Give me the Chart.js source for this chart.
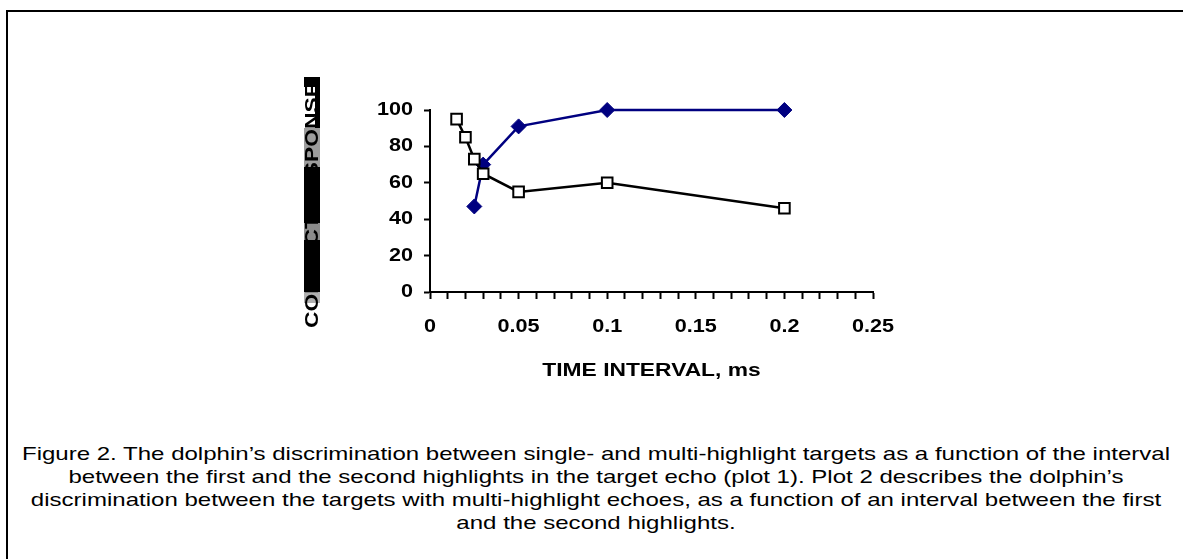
<!DOCTYPE html>
<html>
<head>
<meta charset="utf-8">
<script src="https://cdn.jsdelivr.net/npm/chart.js@4"></script>
<style>
  html, body { margin: 0; padding: 0; background: #fff; }
  body { width: 1183px; height: 559px; position: relative; overflow: hidden;
         font-family: "Liberation Sans", Arial, sans-serif; }
  .frame { position: absolute; left: 6px; top: 10px; width: 1300px; height: 700px;
           border-left: 2px solid #000; border-top: 2px solid #000; }
  #wrap { position: absolute; left: 0; top: 0; width: 1183px; height: 420px; }
  /* the scanned y title: a black bar with grey patches over the text */
  .ybar { position: absolute; left: 304px; top: 77px; width: 16px; height: 226px;
          background:
            linear-gradient(to right, transparent 70%, #000 70%) 0 10px / 100% 41px no-repeat,
            linear-gradient(to bottom,
              #000 0, #000 10px,
              transparent 10px, transparent 51px,
              #9c9c9c 51px, #9c9c9c 90px,
              #000 90px, #000 146px,
              #8c8c8c 146px, #8c8c8c 163px,
              #000 163px, #000 215px,
              #b0b0b0 215px, #b0b0b0 226px); }
  .ylabel { position: absolute; left: 192px; top: 195px; width: 240px; height: 20px;
            line-height: 20px; font-size: 19px; font-weight: bold; color: #000;
            text-align: center; white-space: nowrap;
            transform: rotate(-90deg) scaleX(1.2); }
  .caption { position: absolute; left: 9px; top: 442px; width: 1174px;
             font-size: 19px; line-height: 23px; color: #000; text-align: center;
             white-space: nowrap; transform: scaleX(1.265); }
</style>
</head>
<body>
<div class="frame"></div>
<div id="wrap"><canvas id="chart"></canvas></div>
<div class="ybar"></div>
<div class="ylabel">CORRECT RESPONSE</div>
<div class="caption">
  Figure 2. The dolphin’s discrimination between single- and multi-highlight targets as a function of the interval<br>
  between the first and the second highlights in the target echo (plot 1). Plot 2 describes the dolphin’s<br>
  discrimination between the targets with multi-highlight echoes, as a function of an interval between the first<br>
  and the second highlights.
</div>
<script>
// plot 1 -- filled navy diamonds
const plot1X = [0.025, 0.03, 0.05, 0.1, 0.2];
const plot1Y = [47, 70, 91, 100, 100];
// plot 2 -- open squares
const plot2X = [0.015, 0.02, 0.025, 0.03, 0.05, 0.1, 0.2];
const plot2Y = [95, 85, 73, 65, 55, 60, 46];

const xTicks = [0, 0.01, 0.02, 0.03, 0.04, 0.05, 0.06, 0.07, 0.08, 0.09, 0.1, 0.11, 0.12,
                0.13, 0.14, 0.15, 0.16, 0.17, 0.18, 0.19, 0.2, 0.21, 0.22, 0.23, 0.24, 0.25];
const xMajor = [0, 0.05, 0.1, 0.15, 0.2, 0.25];
const xTickLabels = ['0', '0.05', '0.1', '0.15', '0.2', '0.25'];
const yTicks = [0, 20, 40, 60, 80, 100];
const yTickLabels = ['0', '20', '40', '60', '80', '100'];

const TEXT_STRETCH = 1.2;   // the original figure is stretched sideways

const pts = (xs, ys) => xs.map((x, i) => ({ x: x, y: ys[i] }));

// draw canvas text a bit wider, like the scanned figure
const stretchText = {
  id: 'stretchText',
  beforeDraw(chart) {
    const ctx = chart.ctx;
    if (ctx._stretched) return;
    const fill = ctx.fillText.bind(ctx);
    ctx.fillText = (t, x, y) => {
      ctx.save();
      ctx.translate(x, y);
      ctx.scale(TEXT_STRETCH, 1);
      fill(t, 0, 0);
      ctx.restore();
    };
    ctx._stretched = true;
  }
};

const tickFont = { family: '"Liberation Sans", Arial, sans-serif', size: 18, weight: 'bold' };

new Chart(document.getElementById('chart'), {
  type: 'line',
  data: {
    datasets: [
      {
        label: 'Plot 2',
        data: pts(plot2X, plot2Y),
        borderColor: '#000',
        borderWidth: 2.5,
        pointStyle: 'rect',
        pointRadius: 7.5,
        pointBackgroundColor: '#fff',
        pointBorderColor: '#000',
        pointBorderWidth: 2,
        clip: false,
      },
      {
        label: 'Plot 1',
        data: pts(plot1X, plot1Y),
        borderColor: '#000080',
        borderWidth: 2.5,
        pointStyle: 'rectRot',
        pointRadius: 7.5,
        pointBackgroundColor: '#000080',
        pointBorderColor: '#000080',
        pointBorderWidth: 1,
        clip: false,
      },
    ],
  },
  options: {
    responsive: true,
    maintainAspectRatio: false,
    animation: false,
    events: [],
    layout: { padding: { left: 360, right: 310, top: 110, bottom: 37.6 } },
    plugins: { legend: { display: false }, tooltip: { enabled: false } },
    scales: {
      x: {
        type: 'linear',
        min: 0,
        max: 0.25,
        afterBuildTicks: (s) => { s.ticks = xTicks.map((v) => ({ value: v })); },
        afterFit: (s) => { s.height = 90.4; },
        ticks: {
          autoSkip: false,
          maxRotation: 0,
          padding: 17,
          color: '#000',
          font: tickFont,
          callback: (v) => {
            const i = xMajor.findIndex((m) => Math.abs(m - v) < 1e-9);
            return i >= 0 ? xTickLabels[i] : '';
          },
        },
        grid: { drawOnChartArea: false, tickLength: 7, tickColor: '#000', tickWidth: 2 },
        border: { color: '#000', width: 2 },
        title: {
          display: true,
          text: 'TIME INTERVAL, ms',
          color: '#000',
          padding: 0,
          font: { family: tickFont.family, size: 19, weight: 'bold' },
        },
      },
      y: {
        min: 0,
        max: 100,
        afterBuildTicks: (s) => { s.ticks = yTicks.map((v) => ({ value: v })); },
        afterFit: (s) => { s.width = 70; },
        ticks: {
          padding: 11,
          color: '#000',
          font: tickFont,
          callback: (v) => yTickLabels[yTicks.indexOf(v)],
        },
        grid: { drawOnChartArea: false, tickLength: 6, tickColor: '#000', tickWidth: 2 },
        border: { color: '#000', width: 2 },
      },
    },
  },
  plugins: [stretchText],
});
</script>
</body>
</html>
